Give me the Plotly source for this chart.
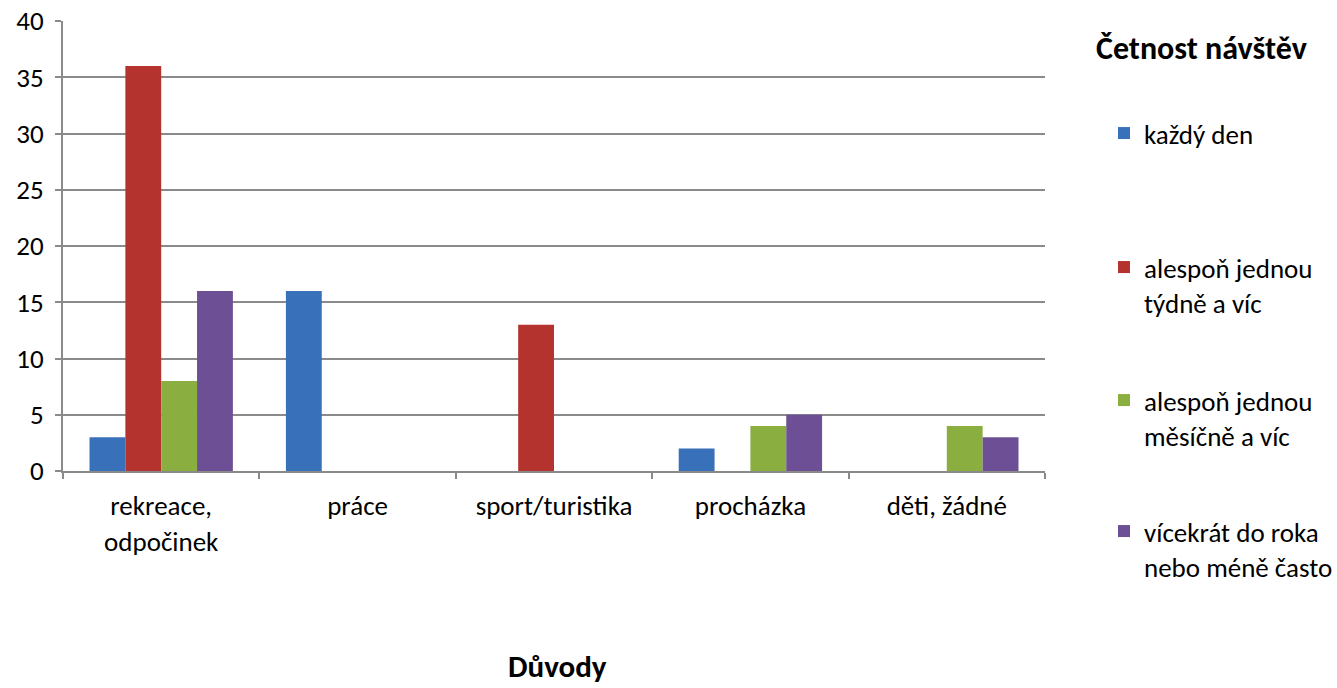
import plotly.graph_objects as go

# Reasons (categories) and visit frequency (series)
categories = ["rekreace,<br>odpočinek", "práce", "sport/turistika", "procházka", "děti, žádné"]
series_names = [
    "každý den",
    "alespoň jednou<br>týdně a víc",
    "alespoň jednou<br>měsíčně a víc",
    "vícekrát do roka<br>nebo méně často",
]
kazdy_den = [3, 16, 0, 2, 0]
tydne = [36, 0, 13, 0, 0]
mesicne = [8, 0, 0, 4, 4]
rocne = [16, 0, 0, 5, 3]

y_ticks = [0, 5, 10, 15, 20, 25, 30, 35, 40]

colors = ["#3870BA", "#B5332F", "#8BAE40", "#6C4F94"]
values = [kazdy_den, tydne, mesicne, rocne]

FONT = "Carlito, Calibri, Lato, sans-serif"
GRID = "#8A8A8A"
FS = 27

# plot area in pixels
W, H = 1337, 688
L, R, T, B = 63, 292, 21, 217
plot_h = H - T - B

def py_to_paper(py):
    return (H - B - py) / plot_h

fig = go.Figure()
legend_tops = [109, 243, 376, 507]
for i, (name, vals, col) in enumerate(zip(series_names, values, colors)):
    fig.add_trace(go.Bar(
        x=categories, y=vals, name=name,
        marker=dict(color=col, line=dict(width=0)),
        legend="legend" if i == 0 else f"legend{i+1}",
        hoverinfo="x+y+name",
    ))

# legends positioned in container pixels so they do not push the margins
legend_common = dict(
    xref="container", yref="container",
    xanchor="left", yanchor="top", x=1104 / W,
    font=dict(family=FONT, size=FS, color="#000000"),
    bgcolor="rgba(0,0,0,0)", borderwidth=0, valign="top",
    itemwidth=30,
)
layout_legends = {}
for i, top in enumerate(legend_tops):
    key = "legend" if i == 0 else f"legend{i+1}"
    layout_legends[key] = dict(legend_common, y=1 - top / H)

fig.update_layout(
    width=W, height=H,
    margin=dict(l=L, r=R, t=T, b=B, autoexpand=False),
    paper_bgcolor="white", plot_bgcolor="white",
    barmode="group", bargap=0.27, bargroupgap=0,
    showlegend=True,
    font=dict(family=FONT, size=FS, color="#000000"),
    **layout_legends,
    annotations=[
        dict(text="<b>Četnost návštěv</b>", xref="paper", yref="paper",
             x=(1201 - L) / (W - L - R), y=py_to_paper(48),
             xanchor="center", yanchor="middle", showarrow=False,
             font=dict(family=FONT, size=32, color="#000000")),
        dict(text="<b>Důvody</b>", xref="paper", yref="paper",
             x=(557 - L) / (W - L - R), y=py_to_paper(666),
             xanchor="center", yanchor="middle", showarrow=False,
             font=dict(family=FONT, size=31, color="#000000")),
    ],
)

fig.update_xaxes(
    showline=True, linecolor=GRID, linewidth=2,
    ticks="outside", tickson="boundaries", ticklen=6, tickcolor=GRID, tickwidth=1.5,
    showgrid=False, tickfont=dict(family=FONT, size=FS, color="#000000"),
    ticklabelstandoff=10, automargin=False,
    fixedrange=True,
)
fig.update_yaxes(
    range=[0, 40], tickvals=y_ticks,
    showline=True, linecolor=GRID, linewidth=2,
    ticks="outside", ticklen=6, tickcolor=GRID, tickwidth=1.5,
    showgrid=True, gridcolor=GRID, gridwidth=1.5,
    zeroline=False, automargin=False,
    ticklabelstandoff=6,
    tickfont=dict(family=FONT, size=FS, color="#000000"),
    fixedrange=True,
)

fig.write_html("out.html")
